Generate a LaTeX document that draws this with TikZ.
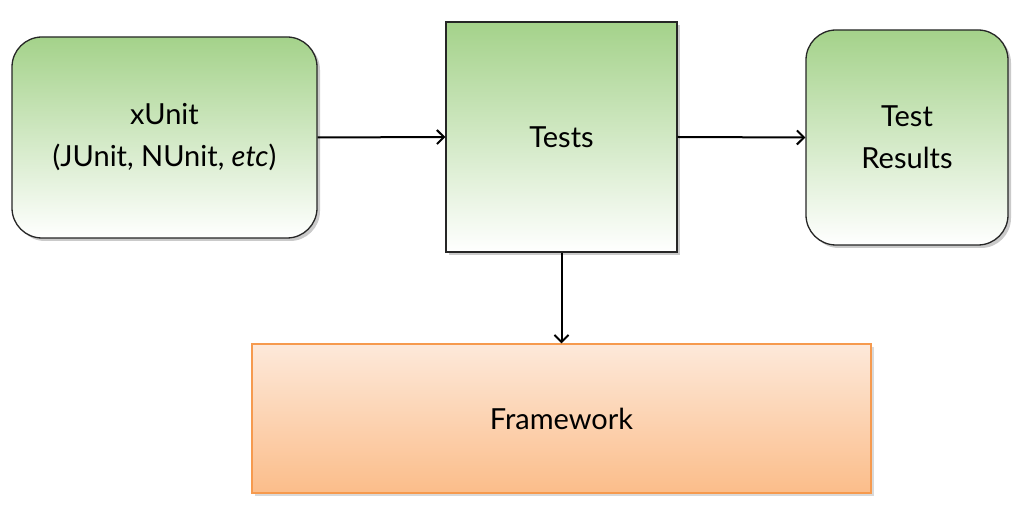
\documentclass[tikz,border=0pt]{standalone}
\usepackage{fontspec}
\setmainfont{Lato}
\usetikzlibrary{shadows,arrows.meta}
\definecolor{gtop}{HTML}{A4D28A}
\definecolor{otop}{HTML}{FDE9DA}
\definecolor{obot}{HTML}{FBBD8A}
\definecolor{oline}{HTML}{F69A4E}
\tikzset{
  lbl/.style={font=\fontsize{29}{42}\selectfont, align=center},
  gbox/.style={lbl, draw=black!85, line width=1.3pt, top color=gtop, bottom color=white,
    drop shadow={shadow xshift=3pt, shadow yshift=-3pt, opacity=0.35, fill=black!60}},
  obox/.style={lbl, draw=oline, line width=1.3pt, top color=otop, bottom color=obot,
    drop shadow={shadow xshift=3pt, shadow yshift=-3pt, opacity=0.3, fill=black!50}},
  conn/.style={line width=2pt, -{Straight Barb[length=7pt,width=14pt,line width=2pt]}}
}
\begin{document}
\begin{tikzpicture}[x=1pt,y=-1pt]
\useasboundingbox (0,0) rectangle (1028,510);
\node[gbox, rounded corners=30pt, minimum width=305pt, minimum height=201pt] (xu) at (164.5,137.5) {xUnit\\(JUnit, NUnit, \textit{etc})};
\node[gbox, minimum width=231pt, minimum height=230pt] (ts) at (561.5,137) {Tests};
\node[gbox, rounded corners=30pt, minimum width=202pt, minimum height=215pt] (tr) at (907,137.5) {Test\\Results};
\node[obox, minimum width=619pt, minimum height=149pt] (fw) at (561.5,418.5) {Framework};
\draw[conn] (xu.east) -- (ts.west);
\draw[conn] (ts.east) -- (tr.west);
\draw[conn] (ts.south) -- (fw.north);
\end{tikzpicture}
\end{document}
